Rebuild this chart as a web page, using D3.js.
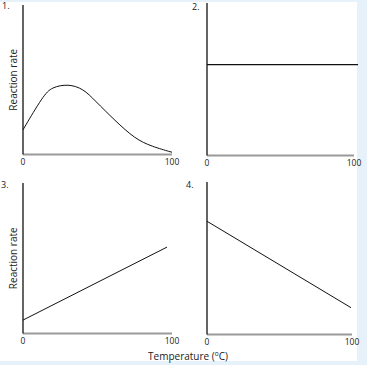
<!DOCTYPE html>
<html><head><meta charset="utf-8">
<script src="https://cdn.jsdelivr.net/npm/d3@7"></script>
<style>
html,body{margin:0;padding:0;background:#e6f1f9;}
svg{display:block;}
text{font-family:"Open Sans","DejaVu Sans",sans-serif;fill:#222;}
</style></head>
<body>
<svg id="c" width="367" height="365"></svg>
<script>
// Data (temperature °C vs relative reaction rate)
const panelLabels = ["1.", "2.", "3.", "4."];
const xTickLabels = [0, 100];
const yAxisTitle = "Reaction rate";
const xAxisTitle = "Temperature (";
const temp1 = [0, 13.6, 19.3, 30.4, 40.5, 48.3, 61.7, 75.2, 86.4, 100];
const rate1 = [16.6, 39.6, 45.2, 47.4, 44.1, 36.2, 22.8, 10.5, 5.4, 1.5];
const temp2 = [0, 100];
const rate2 = [61, 61];
const temp3 = [0, 100];
const rate3 = [9, 58];
const temp4 = [0, 100];
const rate4 = [76, 18];

const series = [
  {temp: temp1, rate: rate1, curve: d3.curveBasis},
  {temp: temp2, rate: rate2, curve: d3.curveLinear},
  {temp: temp3, rate: rate3, curve: d3.curveLinear},
  {temp: temp4, rate: rate4, curve: d3.curveLinear}
];

// layout (pixel geometry)
const layout = [
  {x0: 23, x1: 172, lineX1: 172, yb: 154.5, yt: 5, lx: 2, ly: 9, ytitle: true},
  {x0: 207, x1: 354, lineX1: 358, yb: 155.5, yt: 3, lx: 192, ly: 10, ytitle: false},
  {x0: 23, x1: 172, lineX1: 167, yb: 333.5, yt: 183, lx: 1, ly: 188, ytitle: true},
  {x0: 207, x1: 352, lineX1: 351, yb: 334.5, yt: 182, lx: 186, ly: 188, ytitle: false}
];

const svg = d3.select("#c");
svg.append("rect").attr("x", 0).attr("y", 2).attr("width", 357).attr("height", 359).attr("fill", "#fff");

series.forEach((s, i) => {
  const L = layout[i];
  const x = d3.scaleLinear().domain([0, 100]).range([L.x0, L.x1]);
  const xl = d3.scaleLinear().domain([0, 100]).range([L.x0, L.lineX1]);
  const y = d3.scaleLinear().domain([0, 100]).range([L.yb, L.yb - 149]);
  const g = svg.append("g");

  g.append("line").attr("x1", L.x0).attr("x2", L.x1).attr("y1", L.yb).attr("y2", L.yb)
    .attr("stroke", "#9a9a9a").attr("stroke-width", 2);
  g.append("line").attr("x1", L.x0).attr("x2", L.x0).attr("y1", L.yt).attr("y2", L.yb)
    .attr("stroke", "#111").attr("stroke-width", 1.3);

  g.selectAll("text.tick").data(xTickLabels).join("text").attr("class", "tick")
    .attr("x", d => x(d)).attr("y", L.yb + 10).attr("text-anchor", "middle")
    .attr("font-size", 8.5).text(d => d);

  g.append("text").attr("x", L.lx).attr("y", L.ly).attr("font-size", 9).text(panelLabels[i]);

  if (L.ytitle) {
    const cy = (L.yt + L.yb) / 2;
    g.append("text").attr("transform", `translate(17,${cy}) rotate(-90)`)
      .attr("text-anchor", "middle").attr("font-size", 10).text(yAxisTitle);
  }

  const line = d3.line().x((d, k) => xl(s.temp[k])).y(d => y(d)).curve(s.curve);
  g.append("path").attr("d", line(s.rate)).attr("fill", "none")
    .attr("stroke", "#111").attr("stroke-width", i === 1 ? 1.3 : 1);
});

const xt = svg.append("text").attr("x", 188).attr("y", 360).attr("text-anchor", "middle").attr("font-size", 10);
xt.append("tspan").text(xAxisTitle);
xt.append("tspan").attr("font-size", 6.5).attr("dy", -4).text("o");
xt.append("tspan").attr("dy", 4).text("C)");
</script>
</body></html>
